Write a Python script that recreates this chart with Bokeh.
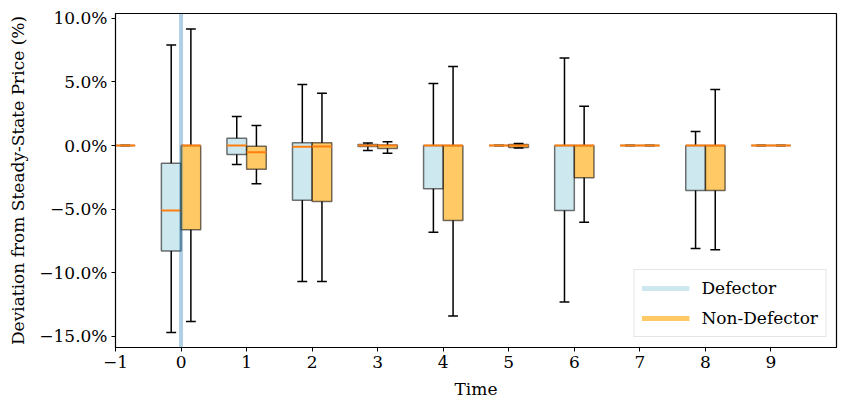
from bokeh.plotting import figure
from bokeh.models import (ColumnDataSource, FixedTicker, CustomJSTickFormatter, Span,
                          Legend, LegendItem, Range1d)
from bokeh.embed import file_html
from bokeh.resources import INLINE

# ---- data (percent deviation from steady-state price) ----
times = [-1, 0, 1, 2, 3, 4, 5, 6, 7, 8, 9]

def_lo  = [0.0, -14.7, -1.49, -10.69, -0.39, -6.81, 0.0, -12.3, 0.0, -8.1, 0.0]
def_q1  = [0.0, -8.3, -0.71, -4.3, -0.08, -3.4, 0.0, -5.1, 0.0, -3.54, 0.0]
def_med = [0.0, -5.1, 0.0, -0.1, 0.0, 0.0, 0.0, 0.0, 0.0, 0.0, 0.0]
def_q3  = [0.0, -1.39, 0.58, 0.21, 0.08, 0.0, 0.0, 0.0, 0.0, 0.0, 0.0]
def_hi  = [0.0, 7.9, 2.28, 4.8, 0.2, 4.87, 0.0, 6.89, 0.0, 1.1, 0.0]

non_lo  = [0.0, -13.84, -3.01, -10.69, -0.6, -13.4, -0.2, -6.03, 0.0, -8.2, 0.0]
non_q1  = [0.0, -6.63, -1.86, -4.4, -0.24, -5.9, -0.16, -2.54, 0.0, -3.54, 0.0]
non_med = [0.0, 0.0, -0.52, -0.08, 0.0, 0.0, 0.0, 0.0, 0.0, 0.0, 0.0]
non_q3  = [0.0, 0.0, -0.05, 0.21, 0.05, 0.0, 0.08, 0.0, 0.0, 0.0, 0.0]
non_hi  = [0.0, 9.17, 1.57, 4.11, 0.29, 6.21, 0.15, 3.09, 0.0, 4.4, 0.0]

x_ticks = [-1, 0, 1, 2, 3, 4, 5, 6, 7, 8, 9]
y_ticks = [-15, -10, -5, 0, 5, 10]

FONT = "DejaVu Serif"
FS = "17px"

p = figure(width=843, height=404, output_backend="svg", toolbar_location=None,
           x_range=Range1d(-1, 10), y_range=Range1d(-15.88, 10.38))
p.min_border_left = 115
p.min_border_right = 7
p.min_border_top = 13
p.min_border_bottom = 57
p.xgrid.visible = False
p.ygrid.visible = False
p.outline_line_color = "black"
p.outline_line_width = 1.2
p.background_fill_color = "white"
p.border_fill_color = "white"

OFF = 0.15
W = 0.3
CAP = 0.075
groups = [
    (-OFF, def_lo, def_q1, def_med, def_q3, def_hi, "lightblue"),
    (OFF, non_lo, non_q1, non_med, non_q3, non_hi, "orange"),
]
for off, lo, q1, med, q3, hi, col in groups:
    xs = [t + off for t in times]
    src = ColumnDataSource(dict(x=xs, lo=lo, q1=q1, med=med, q3=q3, hi=hi,
                                x0=[x - W / 2 for x in xs], x1=[x + W / 2 for x in xs],
                                c0=[x - CAP for x in xs], c1=[x + CAP for x in xs]))
    p.vbar(x="x", width=W, bottom="q1", top="q3", source=src, fill_color=col,
           fill_alpha=0.6, line_color="black", line_alpha=0.55, line_width=1.5)
    p.segment(x0="x", y0="q3", x1="x", y1="hi", source=src, line_color="black", line_width=1.5)
    p.segment(x0="x", y0="q1", x1="x", y1="lo", source=src, line_color="black", line_width=1.5)
    p.segment(x0="c0", y0="hi", x1="c1", y1="hi", source=src, line_color="black", line_width=1.5)
    p.segment(x0="c0", y0="lo", x1="c1", y1="lo", source=src, line_color="black", line_width=1.5)
    p.segment(x0="x0", y0="med", x1="x1", y1="med", source=src, line_color="#ff7f0e", line_width=2)

p.add_layout(Span(location=0, dimension="height", line_color="#1f77b4", line_alpha=0.35, line_width=4))

# legend proxies (placed outside the visible range)
r_def = p.line(x=[-100, -99], y=[0, 0], line_color="lightblue", line_alpha=0.6, line_width=5)
r_non = p.line(x=[-100, -99], y=[0, 0], line_color="orange", line_alpha=0.6, line_width=5)
legend = Legend(items=[LegendItem(label="Defector", renderers=[r_def]),
                       LegendItem(label="Non-Defector", renderers=[r_non])],
                location="bottom_right")
legend.label_text_font = FONT
legend.label_text_font_size = FS
legend.label_text_color = "black"
legend.glyph_width = 48
legend.glyph_height = 22
legend.label_height = 22
legend.label_standoff = 12
legend.spacing = 8
legend.padding = 7
legend.margin = 10
legend.border_line_color = "#cccccc"
legend.border_line_width = 1
legend.background_fill_alpha = 0.8
p.add_layout(legend)

fmt = CustomJSTickFormatter(code="return (tick < 0 ? '\\u2212' : '') + Math.abs(tick).toFixed(1) + '%';")
xfmt = CustomJSTickFormatter(code="return (tick < 0 ? '\\u2212' : '') + Math.abs(tick).toFixed(0);")
p.yaxis.ticker = FixedTicker(ticks=y_ticks)
p.yaxis.formatter = fmt
p.xaxis.ticker = FixedTicker(ticks=x_ticks)
p.xaxis.formatter = xfmt
p.xaxis.axis_label = "Time"
p.yaxis.axis_label = "Deviation from Steady-State Price (%)"
for ax in (p.xaxis[0], p.yaxis[0]):
    ax.axis_label_text_font = FONT
    ax.axis_label_text_font_size = FS
    ax.axis_label_text_font_style = "normal"
    ax.major_label_text_font = FONT
    ax.major_label_text_font_size = FS
    ax.major_label_text_color = "black"
    ax.axis_label_text_color = "black"
    ax.axis_line_color = "black"
    ax.major_tick_line_color = "black"
    ax.major_tick_in = 0
    ax.major_tick_out = 4
    ax.minor_tick_line_color = None
    ax.axis_label_standoff = 8
    ax.major_label_standoff = 4

open("out.html", "w").write(file_html(p, INLINE))
